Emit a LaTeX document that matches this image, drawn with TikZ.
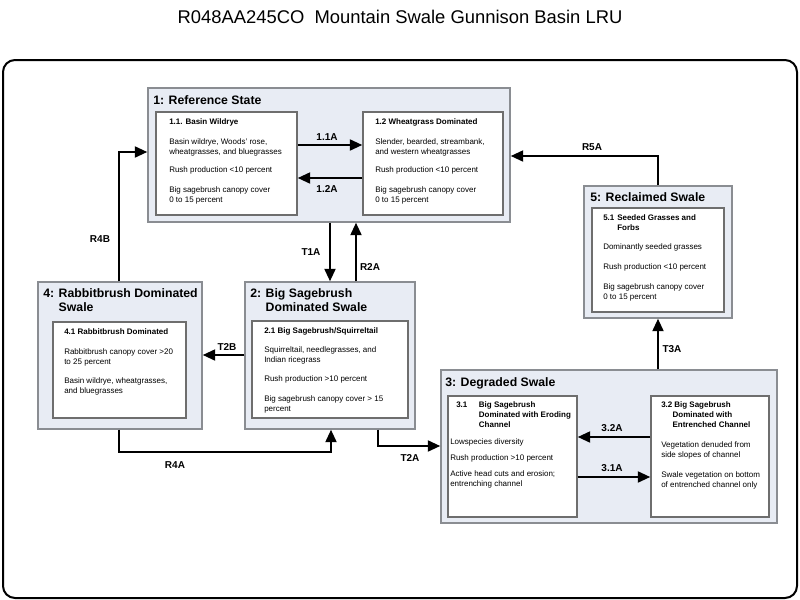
\documentclass[tikz,border=0pt]{standalone}
\usepackage{fontspec}
\setmainfont{Liberation Sans}
\usetikzlibrary{arrows.meta,fit}
\definecolor{statefill}{HTML}{E8ECF4}
\definecolor{stateborder}{HTML}{8A8D92}
\definecolor{innerborder}{HTML}{6E6E6E}
\newcommand{\bstr}{\rule{0pt}{5pt}}
\newcommand{\tstr}{\rule{0pt}{7.5pt}}
\begin{document}
\begin{tikzpicture}[x=0.75pt,y=-0.75pt,
  statebox/.style={draw=stateborder, fill=statefill, line width=0.8pt, inner sep=0pt},
  innerbox/.style={draw=innerborder, fill=white, line width=0.8pt, inner sep=0pt},
  stitle/.style={anchor=north west, inner sep=0pt, font=\fontsize{9.2}{10.5}\selectfont\bfseries, align=left},
  btext/.style={anchor=north west, inner sep=0pt, font=\fontsize{6}{7.5}\selectfont, align=left},
  arr/.style={line width=2.2pt, -{Triangle[length=9.5pt,width=8pt]}},
  lbl/.style={font=\fontsize{7.5}{9}\selectfont\bfseries, inner sep=0pt},
]
\useasboundingbox[fill=white] (0,0) rectangle (800,600);

% main title
\node[font=\fontsize{13.8}{16}\selectfont, inner sep=0pt] (title) at (400,17) {R048AA245CO\ \ Mountain Swale Gunnison Basin LRU};

% outer frame
\draw[line width=1.5pt, rounded corners=9pt] (3,60) rectangle (797,598);

% state boxes
\node[statebox, fit={(148,88) (510,222)}] (s1) {};
\node[statebox, fit={(245,282) (415,429)}] (s2) {};
\node[statebox, fit={(441,370) (777,523)}] (s3) {};
\node[statebox, fit={(38,282) (202,429)}] (s4) {};
\node[statebox, fit={(584,186) (732,318)}] (s5) {};

% community boxes
\node[innerbox, fit={(156,112) (297,215)}] (b11) {};
\node[innerbox, fit={(363,112) (503,215)}] (b12) {};
\node[innerbox, fit={(252,321) (408,418)}] (b21) {};
\node[innerbox, fit={(448,396) (577,517)}] (b31) {};
\node[innerbox, fit={(651,396) (769,517)}] (b32) {};
\node[innerbox, fit={(53,322) (186,418)}] (b41) {};
\node[innerbox, fit={(592,208) (724,312)}] (b51) {};

% state titles
\node[stitle] (h1) at (153,94.5) {\tstr 1: Reference State};
\node[stitle] (h2) at (250,287.5) {\tstr 2: Big Sagebrush\\\hphantom{2: }Dominated Swale};
\node[stitle] (h3) at (445,376.5) {\tstr 3: Degraded Swale};
\node[stitle] (h4) at (43,287.5) {\tstr 4: Rabbitbrush Dominated\\\hphantom{4: }Swale};
\node[stitle] (h5) at (590,191.5) {\tstr 5: Reclaimed Swale};

% community texts
\node[btext] (t11) at (169,117.3) {\bstr\textbf{1.1. Basin Wildrye}\\[7.5pt]
Basin wildrye, Woods' rose,\\wheatgrasses, and bluegrasses\\[6.5pt]
Rush production <10 percent\\[7.5pt]
Big sagebrush canopy cover\\0 to 15 percent};
\node[btext] (t12) at (375,117.3) {\bstr\textbf{1.2 Wheatgrass Dominated}\\[7.5pt]
Slender, bearded, streambank,\\and western wheatgrasses\\[6.5pt]
Rush production <10 percent\\[7.5pt]
Big sagebrush canopy cover\\0 to 15 percent};
\node[btext] (t21) at (264,326.3) {\bstr\textbf{2.1 Big Sagebrush/Squirreltail}\\[7pt]
Squirreltail, needlegrasses, and\\Indian ricegrass\\[6.75pt]
Rush production >10 percent\\[7.5pt]
Big sagebrush canopy cover > 15\\percent};
\node[btext] (t41) at (64,327.3) {\bstr\textbf{4.1 Rabbitbrush Dominated}\\[7.5pt]
Rabbitbrush canopy cover >20\\to 25 percent\\[6.75pt]
Basin wildrye, wheatgrasses,\\and bluegrasses};
\node[btext] (t51) at (603,213.3) {\bstr\textbf{\makebox[10.5pt][l]{5.1}Seeded Grasses and}\\\textbf{\hspace*{10.5pt}Forbs}\\[7pt]
Dominantly seeded grasses\\[7.5pt]
Rush production <10 percent\\[7.5pt]
Big sagebrush canopy cover\\0 to 15 percent};
\node[btext] (t31h) at (456,400.3) {\bstr\textbf{\makebox[17pt][l]{3.1}Big Sagebrush}\\\textbf{\hspace*{17pt}Dominated with Eroding}\\\textbf{\hspace*{17pt}Channel}};
\node[btext] (t31) at (450,437.3) {\bstr Lowspecies diversity\\[4.5pt]
Rush production >10 percent\\[4.5pt]
Active head cuts and erosion;\\entrenching channel};
\node[btext] (t32h) at (661,400.3) {\bstr\textbf{\makebox[9.8pt][l]{3.2}Big Sagebrush}\\\textbf{\hspace*{8.5pt}Dominated with}\\\textbf{\hspace*{8.5pt}Entrenched Channel}};
\node[btext] (t32) at (661,440.3) {\bstr Vegetation denuded from\\side slopes of channel\\[7.5pt]
Swale vegetation on bottom\\of entrenched channel only};

% connector guide coordinates
\coordinate (c11a) at (330,145);
\coordinate (c12a) at (330,178);
\coordinate (ct1a) at (330,250);
\coordinate (cr2a) at (356,250);
\coordinate (cr4b) at (119,152);
\coordinate (cr4a1) at (119,452);
\coordinate (cr4a2) at (331,452);
\coordinate (ct2b) at (225,355);
\coordinate (ct2a) at (378,446);
\coordinate (ct3a) at (658,340);
\coordinate (cr5a) at (658,156);
\coordinate (c32a) at (612,437);
\coordinate (c31a) at (612,477);

% connectors
\draw[arr] (b11.east |- c11a) -- (b12.west |- c11a);
\draw[arr] (b12.west |- c12a) -- (b11.east |- c12a);
\draw[arr] (s1.south -| ct1a) -- (s2.north -| ct1a);
\draw[arr] (s2.north -| cr2a) -- (s1.south -| cr2a);
\draw[arr] (s4.north -| cr4b) -- (cr4b) -- (s1.west |- cr4b);
\draw[arr] (s4.south -| cr4a1) -- (cr4a1) -- (cr4a2) -- (s2.south -| cr4a2);
\draw[arr] (s2.west |- ct2b) -- (s4.east |- ct2b);
\draw[arr] (s2.south -| ct2a) -- (ct2a) -- (s3.west |- ct2a);
\draw[arr] (s3.north -| ct3a) -- (s5.south -| ct3a);
\draw[arr] (s5.north -| cr5a) -- (cr5a) -- (s1.east |- cr5a);
\draw[arr] (b32.west |- c32a) -- (b31.east |- c32a);
\draw[arr] (b31.east |- c31a) -- (b32.west |- c31a);

% labels
\node[lbl] (l11a) at (327,137) {1.1A};
\node[lbl] (l12a) at (327,189) {1.2A};
\node[lbl] (lt1a) at (311,252) {T1A};
\node[lbl] (lr2a) at (370,267) {R2A};
\node[lbl] (lr4b) at (100,239) {R4B};
\node[lbl] (lr4a) at (175,465) {R4A};
\node[lbl] (lt2b) at (227,347) {T2B};
\node[lbl] (lt2a) at (410,458) {T2A};
\node[lbl] (lt3a) at (672,349) {T3A};
\node[lbl] (lr5a) at (592,147) {R5A};
\node[lbl] (l32a) at (612,428) {3.2A};
\node[lbl] (l31a) at (612,468) {3.1A};
\end{tikzpicture}
\end{document}
